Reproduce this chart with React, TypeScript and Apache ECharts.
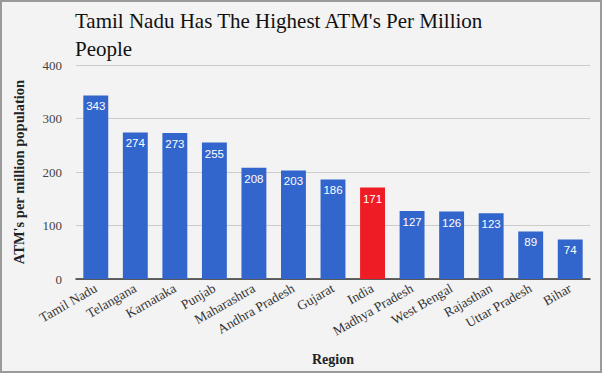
import React, { useEffect, useRef } from "react";
import * as echarts from "echarts";

const categories = ["Tamil Nadu", "Telangana", "Karnataka", "Punjab", "Maharashtra", "Andhra Pradesh", "Gujarat", "India", "Madhya Pradesh", "West Bengal", "Rajasthan", "Uttar Pradesh", "Bihar"];
const values = [343, 274, 273, 255, 208, 203, 186, 171, 127, 126, 123, 89, 74];
const highlight = "India";
const titleLines = ["Tamil Nadu Has The Highest ATM's Per Million", "People"];
const yName = "ATM's per million population";
const xName = "Region";

const serif = "'Liberation Serif'";

export default function App() {
  const ref = useRef<HTMLDivElement>(null);
  useEffect(() => {
    document.body.style.margin = "0";
    const chart = echarts.init(ref.current!, null, { renderer: "svg" });
    chart.setOption({
      animation: false,
      backgroundColor: "#f3f3f3",
      textStyle: { fontFamily: serif },
      graphic: titleLines.map((t, i) => ({
        type: "text",
        left: 73,
        top: 8 + i * 28,
        style: { text: t, fontFamily: serif, fontSize: 21, fill: "#111" },
      })),
      grid: { left: 74, right: 10, top: 63, bottom: 88 },
      xAxis: {
        type: "category",
        data: categories,
        name: xName,
        nameLocation: "middle",
        nameGap: 73,
        nameTextStyle: { fontFamily: serif, fontSize: 14, fontWeight: "bold", color: "#222" },
        axisLine: { lineStyle: { color: "#333", width: 1.5 } },
        axisTick: { show: false },
        axisLabel: { rotate: 30, fontFamily: serif, fontSize: 13.5, color: "#333", margin: 8, interval: 0 },
      },
      yAxis: {
        type: "value",
        min: 0,
        max: 400,
        interval: 100,
        name: yName,
        nameLocation: "middle",
        nameGap: 50,
        nameTextStyle: { fontFamily: serif, fontSize: 14.5, fontWeight: "bold", color: "#222" },
        axisLine: { show: false },
        axisTick: { show: false },
        axisLabel: { fontFamily: serif, fontSize: 13, color: "#444", margin: 14 },
        splitLine: { lineStyle: { color: "#cccccc" } },
      },
      series: [
        {
          type: "bar",
          barWidth: "63%",
          data: values.map((v, i) => ({
            value: v,
            itemStyle: { color: categories[i] === highlight ? "#ee1c24" : "#3366cc" },
          })),
          label: {
            show: true,
            position: "insideTop",
            distance: 5,
            color: "#fff",
            fontFamily: "Liberation Sans",
            fontSize: 11.5,
          },
        },
      ],
    });
    return () => chart.dispose();
  }, []);
  return (
    <div style={{ width: 602, height: 373, boxSizing: "border-box", border: "2px solid #9a9a9a", background: "#f3f3f3" }}>
      <div ref={ref} style={{ width: 598, height: 369 }} />
    </div>
  );
}
